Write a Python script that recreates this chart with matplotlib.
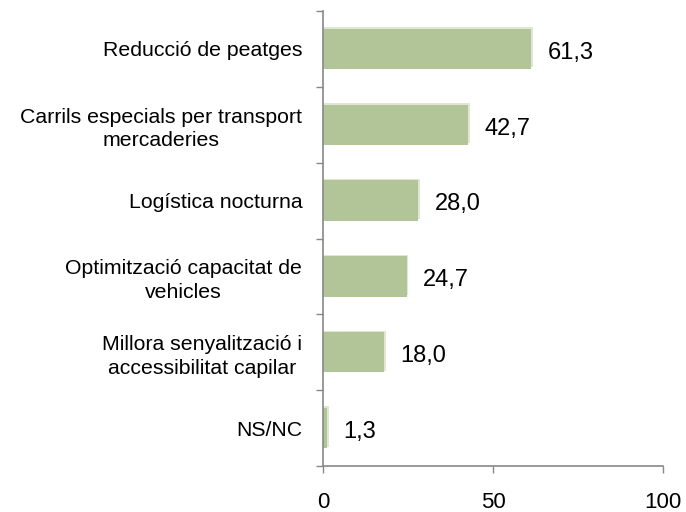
import matplotlib.pyplot as plt
import numpy as np

plt.rcParams['font.family'] = ['Liberation Sans', 'DejaVu Sans']

# Data
labels = ['Reducció de peatges',
          'Carrils especials per transport\nmercaderies',
          'Logística nocturna',
          'Optimització capacitat de\nvehicles',
          'Millora senyalització i\naccessibilitat capilar',
          'NS/NC']
values = np.array([61.3, 42.7, 28.0, 24.7, 18.0, 1.3])
xticks = [0, 50, 100]

fig = plt.figure(figsize=(6.86, 5.12), dpi=100)
ax = fig.add_axes([323 / 686, 46 / 512, 340 / 686, 455 / 512])

y = np.arange(len(labels))
# light shadow under each bar
ax.barh(y - 0.02, values + 0.4, height=0.53, color='#dfe6d3', zorder=1)
ax.barh(y, values, height=0.53, color='#b2c598', zorder=2)

for yi, v in zip(y, values):
    ax.text(v + 4.8, yi + 0.05, f'{v:.1f}'.replace('.', ','), va='center',
            ha='left', fontsize=17, color='black')

ax.set_xlim(0, 100)
ax.set_ylim(len(labels) - 0.5, -0.5)
ax.set_xticks(xticks)
ax.set_xticklabels([str(t) for t in xticks], fontsize=16)
ax.tick_params(axis='x', direction='out', length=5, width=1, color='#888888', pad=14)

ax.set_yticks(y)
ax.set_yticklabels(labels, fontsize=15.3, ha='right', multialignment='center',
                   linespacing=1.3)
ax.tick_params(axis='y', length=0, pad=15)
ax.set_yticks(np.arange(len(labels) + 1) - 0.5, minor=True)
ax.tick_params(axis='y', which='minor', direction='out', length=5, width=1, color='#888888')

for s in ['top', 'right']:
    ax.spines[s].set_visible(False)
for s in ['left', 'bottom']:
    ax.spines[s].set_color('#888888')
    ax.spines[s].set_linewidth(1.2)

fig.savefig('out.png', dpi=100)
